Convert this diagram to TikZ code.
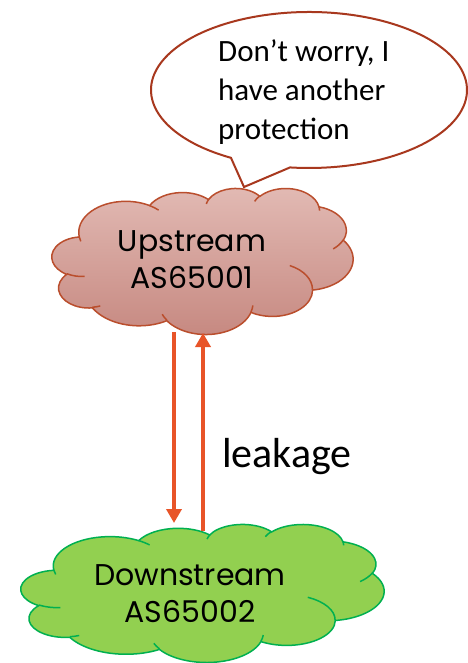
\documentclass[tikz,border=0pt]{standalone}
\usepackage{fontspec}
\setmainfont{Carlito}
\newfontfamily\geofont{Poppins}
\usetikzlibrary{arrows.meta}

\definecolor{upfilltop}{RGB}{226,186,180}
\definecolor{upfillbot}{RGB}{198,136,128}
\definecolor{upline}{RGB}{186,78,45}
\definecolor{bubbleline}{RGB}{168,56,30}
\definecolor{dnfill}{RGB}{146,208,80}
\definecolor{dnline}{RGB}{0,176,80}
\definecolor{linkred}{RGB}{232,84,40}

\tikzset{
  % elliptic arc given by radii and start/sweep as polar (visual) angles
  ooarc/.style n args={4}{x radius=#1, y radius=#2,
    start angle={atan2(#1*sin(#3),#2*cos(#3))},
    delta angle={#4+(atan2(#1*sin(#3+#4),#2*cos(#3+#4))-atan2(#1*sin(#3),#2*cos(#3))-(#4))-360*round((atan2(#1*sin(#3+#4),#2*cos(#3+#4))-atan2(#1*sin(#3),#2*cos(#3))-(#4))/360)}},
  % cloud outline in a 432 x 432 box
  cloudpath/.style={insert path={
    (39.00,143.70)
    arc[ooarc={67.53}{91.90}{-190.487483}{123.780533}]
    arc[ooarc={53.33}{72.67}{-144.102383}{89.945233}]
    arc[ooarc={43.65}{59.45}{-145.807917}{99.723017}]
    arc[ooarc={48.57}{65.95}{-130.986067}{117.241733}]
    arc[ooarc={53.33}{72.73}{-78.708883}{109.026917}]
    arc[ooarc={67.75}{92.20}{-46.26725}{130.269}]
    arc[ooarc={57.85}{78.67}{0.625017}{114.033333}]
    arc[ooarc={67.52}{92.15}{22.4516}{115.17255}]
    arc[ooarc={77.20}{105.43}{66.242633}{75.711017}]
    arc[ooarc={43.60}{59.18}{-274.942083}{146.735567}]
    arc[ooarc={43.45}{59.45}{-246.8285}{152.51885}]
    -- cycle}},
  % small inner folds of the cloud
  cloudfolds/.style={insert path={
    (46.93,261.77) arc[ooarc={43.45}{59.45}{86.742}{26.4295}]
    (69.28,348.99) arc[ooarc={43.60}{59.18}{73.61047}{11.44747}]
    (164.78,390.90) arc[ooarc={67.52}{92.15}{137.62415}{14.0811}]
    (288.27,347.51) arc[ooarc={67.52}{92.15}{6.45327}{15.99835}]
    (341.29,229.54) arc[ooarc={57.85}{78.67}{-70.29235}{70.91737}]
    (417.98,153.54) arc[ooarc={53.33}{72.73}{30.31803}{27.7515}]
    (383.24,54.26) arc[ooarc={48.57}{65.95}{-13.74433}{14.8589}]
    (290.78,39.52) arc[ooarc={48.57}{65.95}{-149.18145}{18.19537}]
    (221.41,47.20) arc[ooarc={43.65}{59.45}{-163.49427}{17.68635}]
    (140.00,51.92) arc[ooarc={67.53}{91.90}{-66.70695}{12.31935}]
    (41.27,157.89) arc[ooarc={67.53}{91.90}{157.65435}{11.85817}]}},
  cloudtext/.style={font={\geofont\fontsize{30}{37}\selectfont}, align=center, inner sep=0pt},
  link/.style={draw=linkred, line width=3.5pt, -{Triangle[width=15pt,length=14pt]}},
}

\begin{document}
\begin{tikzpicture}[x=1pt,y=-1pt]
  \useasboundingbox[fill=white] (0,0) rectangle (467,663);

  % speech bubble
  \coordinate (bc) at (309,90);
  \coordinate (tip) at (244,187);
  \draw[bubbleline, line width=2pt, fill=white, line join=miter]
    (tip) -- ([shift={(119.6:158 and 78)}]bc)
    arc[start angle=119.6, end angle=456.9, x radius=158, y radius=78] -- cycle;
  \node[anchor=north west, inner sep=0pt, align=left,
        font={\fontsize{31}{39}\selectfont}] (note) at (218,39)
    {Don’t worry, I\\have another\\protection};

  % upstream cloud
  \begin{scope}[shift={(52,188)}, xscale=0.6968, yscale=0.33796]
    \path[draw=upline, line width=1.5pt, top color=upfilltop, bottom color=upfillbot, cloudpath];
    \draw[upline, line width=1.5pt, cloudfolds];
  \end{scope}
  \node[cloudtext] (up) at (192,260) {Upstream\\AS65001};

  % downstream cloud
  \begin{scope}[shift={(21,524)}, xscale=0.8403, yscale=0.31944]
    \path[draw=dnline, line width=1.5pt, fill=dnfill, cloudpath];
    \draw[dnline, line width=1.5pt, cloudfolds];
  \end{scope}
  \node[cloudtext] (down) at (190,594) {Downstream\\AS65002};

  % announcements between the two networks
  \coordinate (upOut) at (174,332);
  \coordinate (downIn) at (174,523);
  \coordinate (downOut) at (203,531);
  \coordinate (upIn) at (203,333);
  \draw[link] (upOut) -- (downIn);
  \draw[link] (downOut) -- (upIn);

  \node[anchor=base west, inner sep=0pt, font={\fontsize{42}{50}\selectfont}] (leak) at (222,467) {leakage};
\end{tikzpicture}
\end{document}
